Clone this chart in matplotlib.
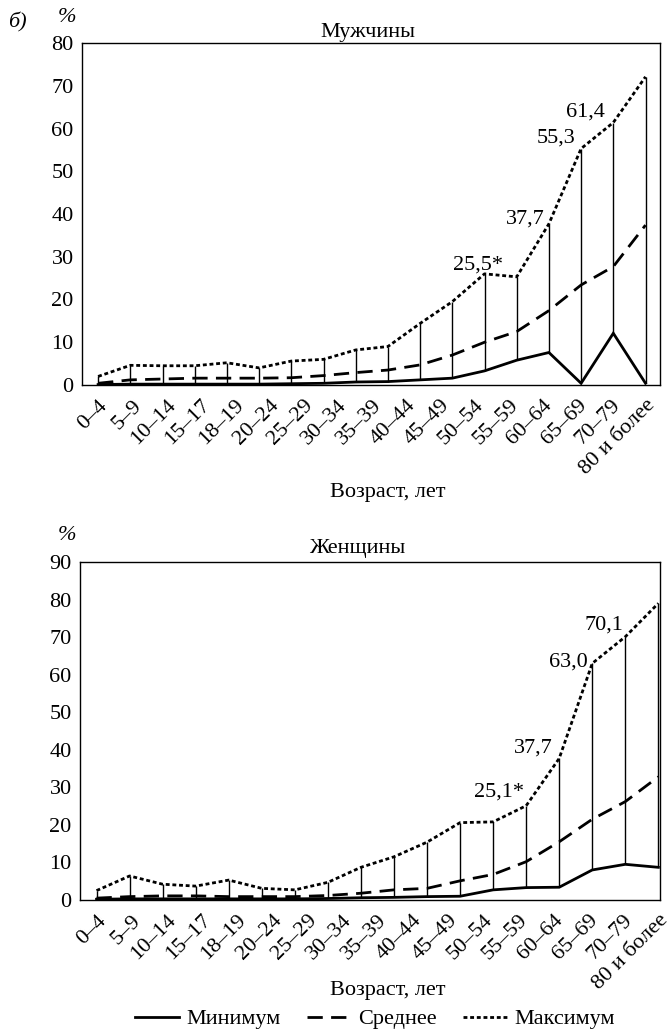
import numpy as np
import matplotlib.pyplot as plt
from matplotlib.lines import Line2D

plt.rcParams['font.family'] = ['Liberation Serif', 'DejaVu Serif']

ages = ["0–4", "5–9", "10–14", "15–17", "18–19", "20–24", "25–29", "30–34",
        "35–39", "40–44", "45–49", "50–54", "55–59", "60–64", "65–69",
        "70–79", "80 и более"]

# men (18 points drawn in the source chart)
men_min = [0.1, 0.2, 0.2, 0.2, 0.2, 0.2, 0.3, 0.4, 0.7, 0.8, 1.2, 1.6,
           3.3, 5.8, 7.6, 0.4, 12.1, 0.4]
men_mean = [0.4, 1.2, 1.4, 1.6, 1.6, 1.6, 1.7, 2.2, 2.9, 3.5, 4.7, 7.0,
            10.0, 12.5, 17.4, 23.4, 27.7, 37.4]
men_max = [2.0, 4.6, 4.5, 4.5, 5.2, 4.0, 5.6, 6.0, 8.2, 9.0, 14.4, 19.5,
           26.0, 25.3, 37.7, 55.3, 61.4, 72.1]

# women
women_min = [0.2, 0.3, 0.3, 0.3, 0.3, 0.3, 0.3, 0.4, 0.6, 0.7, 0.9, 1.0,
             2.7, 3.3, 3.4, 8.0, 9.5, 8.7]
women_mean = [0.5, 0.9, 1.1, 1.1, 0.9, 0.9, 0.9, 1.2, 1.8, 2.7, 3.1, 5.1,
              6.8, 10.2, 15.5, 21.5, 26.2, 32.8]
women_max = [2.5, 6.4, 4.2, 3.7, 5.3, 3.1, 2.7, 4.7, 8.7, 11.5, 15.4, 20.6,
             20.8, 25.1, 37.7, 63.0, 70.1, 79.0]

# labelled points: (index, text, dx px, dy px)
men_notes = [(12, "25,5*", 18, 4), (14, "37,7", -4, 0), (15, "55,3", -6, 6),
             (16, "61,4", -8, 6)]
women_notes = [(13, "25,1*", -2, 9), (14, "37,7", -7, 6), (15, "63,0", -5, -3),
               (16, "70,1", -2, 7)]

FS = 16
fig = plt.figure(figsize=(6.71, 10.32), dpi=100)
W, H = 671, 1032


def panel(rect, mn, me, mx, notes, ymax, xright):
    ax = fig.add_axes([rect[0] / W, 1 - rect[3] / H,
                       (rect[2] - rect[0]) / W, (rect[3] - rect[1]) / H])
    x = np.arange(len(mx))
    ax.vlines(x, mn, mx, color='black', lw=1.0)
    ax.plot(x, mn, color='black', lw=2.0, solid_joinstyle='miter')
    ax.plot(x, me, color='black', lw=2.0, dashes=(5.5, 3.0))
    ax.plot(x, mx, color='black', lw=2.0, dashes=(1.4, 1.0))
    for i, t, dx, dy in notes:
        ax.annotate(t, (x[i], mx[i]), xytext=(dx, dy), textcoords='offset pixels',
                    ha='right', va='baseline', fontsize=FS)
    ax.set_xlim(-0.5, xright)
    ax.set_ylim(0, ymax)
    ax.set_yticks(range(0, ymax + 1, 10))
    ax.set_xticks(np.linspace(0, len(mx) - 1, len(ages)))
    ax.set_xticklabels(ages, rotation=45, ha='right', rotation_mode='anchor')
    ax.tick_params(axis='both', length=0, labelsize=FS)
    ax.tick_params(axis='y', pad=6)
    ax.tick_params(axis='x', pad=8)
    for s in ax.spines.values():
        s.set_linewidth(1.0)
    return ax


panel((82, 43, 660, 385), men_min, men_mean, men_max, men_notes, 80, 17.45)
panel((80, 562, 660, 900), women_min, women_mean, women_max, women_notes, 90, 17.05)

fig.text(17 / W, 1 - 22 / H, "б)", style='italic', fontsize=FS, ha='center', va='center')
fig.text(67 / W, 1 - 18 / H, "%", style='italic', fontsize=FS, ha='center', va='center')
fig.text(67 / W, 1 - 535 / H, "%", style='italic', fontsize=FS, ha='center', va='center')
fig.text(368 / W, 1 - 37 / H, "Мужчины", fontsize=FS, ha='center', va='baseline')
fig.text(357 / W, 1 - 553 / H, "Женщины", fontsize=FS, ha='center', va='baseline')
fig.text(388 / W, 1 - 492 / H, "Возраст, лет", fontsize=FS, ha='center', va='center')
fig.text(388 / W, 1 - 990 / H, "Возраст, лет", fontsize=FS, ha='center', va='center')

handles = [Line2D([], [], color='black', lw=2.0),
           Line2D([], [], color='black', lw=2.0, dashes=(5.5, 3.0)),
           Line2D([], [], color='black', lw=2.0, dashes=(1.4, 1.0))]
fig.legend(handles, ["Минимум", "Среднее", "Максимум"], loc='center',
           bbox_to_anchor=(375 / W, 1 - 1019 / H), ncol=3, frameon=False,
           fontsize=FS, handlelength=2.0, handletextpad=0.3, columnspacing=1.2)

fig.savefig("out.png", dpi=100)
